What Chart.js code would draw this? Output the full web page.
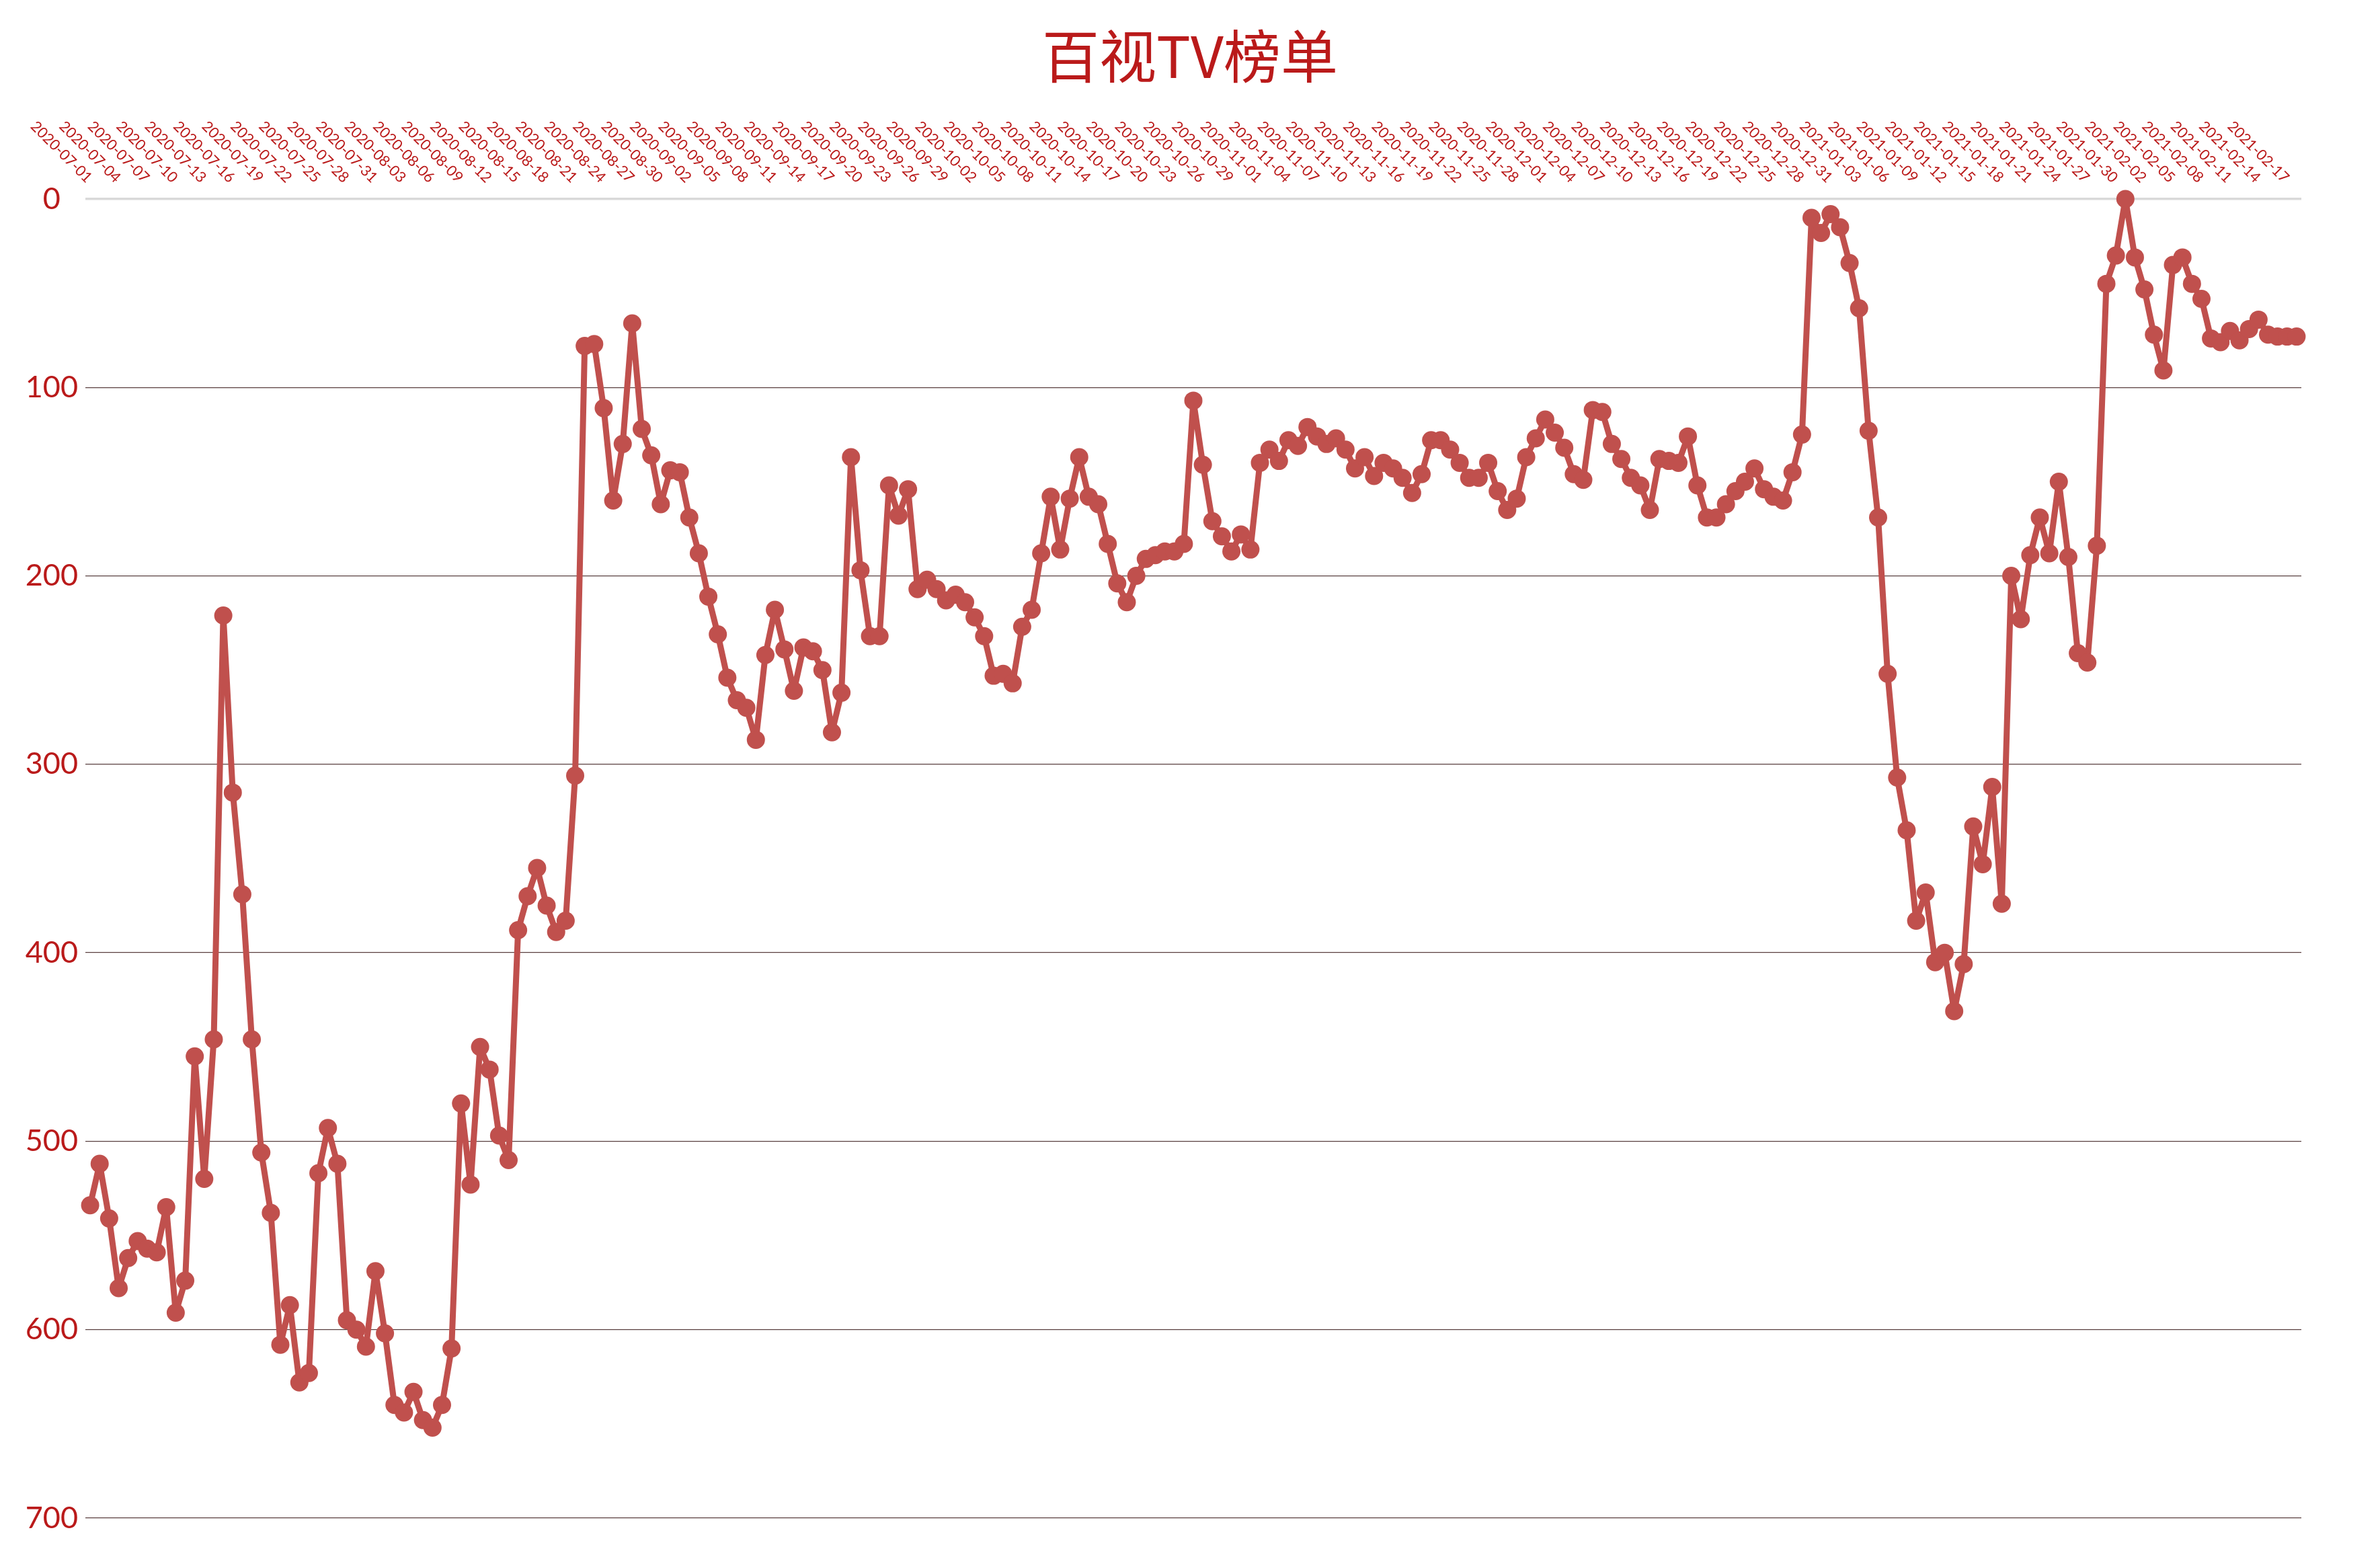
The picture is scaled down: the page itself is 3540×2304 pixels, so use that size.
<!DOCTYPE html>
<html>
<head>
<meta charset="utf-8">
<title>百视TV榜单</title>
<script src="https://cdn.jsdelivr.net/npm/chart.js@4.4.1/dist/chart.umd.min.js"></script>
<style>
  html, body { margin: 0; padding: 0; background: #ffffff; }
  #wrap { width: 3540px; height: 2304px; }
</style>
</head>
<body>
<div id="wrap"><canvas id="rankChart"></canvas></div>
<script>
// daily ranking, first day 2020-07-01 (lower number = better, axis is reversed)
const firstDay = '2020-07-01';
const yTicks = [0, 100, 200, 300, 400, 500, 600, 700];
const ranks = [
  534, 512, 541, 578, 562, 553, 557, 559, 535, 591,
  574, 455, 520, 446, 221, 315, 369, 446, 506, 538,
  608, 587, 628, 623, 517, 493, 512, 595, 600, 609,
  569, 602, 640, 644, 633, 648, 652, 640, 610, 480,
  523, 450, 462, 497, 510, 388, 370, 355, 375, 389,
  383, 306, 78, 77, 111, 160, 130, 66, 122, 136,
  162, 144, 145, 169, 188, 211, 231, 254, 266, 270,
  287, 242, 218, 239, 261, 238, 240, 250, 283, 262,
  137, 197, 232, 232, 152, 168, 154, 207, 202, 207,
  213, 210, 214, 222, 232, 253, 252, 257, 227, 218,
  188, 158, 186, 159, 137, 158, 162, 183, 204, 214,
  200, 191, 189, 187, 187, 183, 107, 141, 171, 179,
  187, 178, 186, 140, 133, 139, 128, 131, 121, 126,
  130, 127, 133, 143, 137, 147, 140, 143, 148, 156,
  146, 128, 128, 133, 140, 148, 148, 140, 155, 165,
  159, 137, 127, 117, 124, 132, 146, 149, 112, 113,
  130, 138, 148, 152, 165, 138, 139, 140, 126, 152,
  169, 169, 162, 155, 150, 143, 154, 158, 160, 145,
  125, 10, 18, 8, 15, 34, 58, 123, 169, 252,
  307, 335, 383, 368, 405, 400, 431, 406, 333, 353,
  312, 374, 200, 223, 189, 169, 188, 150, 190, 241,
  246, 184, 45, 30, 0, 31, 48, 72, 91, 35,
  31, 45, 53, 74, 76, 70, 75, 69, 64, 72,
  73, 73, 73
];
const labelEvery = 3;

const darkRed = '#BA1A1A';
const lineRed = '#C0504D';

function buildDays(start, n) {
  const out = [];
  const d = new Date(start + 'T00:00:00Z');
  for (let i = 0; i < n; i++) {
    out.push(d.toISOString().slice(0, 10));
    d.setUTCDate(d.getUTCDate() + 1);
  }
  return out;
}
const days = buildDays(firstDay, ranks.length);

// slanted date labels above the plot (Chart.js can't slant top labels this way)
const dateLabels = {
  id: 'dateLabels',
  afterDraw(chart) {
    const xs = chart.scales.x;
    const ctx = chart.ctx;
    const top = chart.chartArea.top;
    ctx.save();
    ctx.fillStyle = darkRed;
    ctx.font = '22px Lato, "Open Sans", sans-serif';
    ctx.textAlign = 'right';
    ctx.textBaseline = 'middle';
    days.forEach((d, i) => {
      if (i % labelEvery) return;
      ctx.save();
      ctx.translate(xs.getPixelForValue(i) - 1, top - 28);
      ctx.rotate(Math.PI / 4);
      ctx.fillText(d, 0, 0);
      ctx.restore();
    });
    ctx.restore();
  }
};

const ctx = document.getElementById('rankChart').getContext('2d');
const rankChart = new Chart(ctx, {
  type: 'line',
  data: {
    labels: days,
    datasets: [{
      label: '百视TV',
      data: ranks,
      borderColor: lineRed,
      backgroundColor: lineRed,
      borderWidth: 9,
      borderJoinStyle: 'round',
      borderCapStyle: 'round',
      pointRadius: 13.5,
      pointBorderWidth: 0,
      pointBackgroundColor: lineRed,
      tension: 0,
      clip: false
    }]
  },
  options: {
    responsive: true,
    maintainAspectRatio: false,
    animation: false,
    devicePixelRatio: 1,
    layout: { padding: 0 },
    plugins: {
      legend: { display: false },
      tooltip: { enabled: false },
      title: {
        display: true,
        text: '百视TV榜单',
        color: darkRed,
        font: { family: '"Noto Sans CJK SC", sans-serif', size: 85, weight: 'normal', lineHeight: 1.2 },
        padding: { top: 33, bottom: 20 }
      }
    },
    scales: {
      x: {
        position: 'top',
        offset: true,
        grid: { display: false },
        border: { display: false },
        ticks: { display: false },
        // keep the plot off the right edge while the title stays centred on the page
        afterFit: s => { s.height = 296 - 155; s.paddingLeft = 0; s.paddingRight = 117; }
      },
      y: {
        reverse: true,
        min: 0,
        max: 700,
        afterBuildTicks: s => { s.ticks = yTicks.map(v => ({ value: v })); },
        grid: {
          drawTicks: false,
          color: c => c.tick.value === 0 ? '#D9D9D9' : '#5a4040',
          lineWidth: c => c.tick.value === 0 ? 3.5 : 1.3
        },
        border: { display: false },
        ticks: {
          color: darkRed,
          padding: 11,
          crossAlign: 'center',
          font: { family: 'Lato, "Open Sans", sans-serif', size: 45 }
        },
        afterFit: s => { s.width = 127; s.paddingTop = 0; s.paddingBottom = 46; }
      }
    }
  },
  plugins: [dateLabels]
});
</script>
</body>
</html>
